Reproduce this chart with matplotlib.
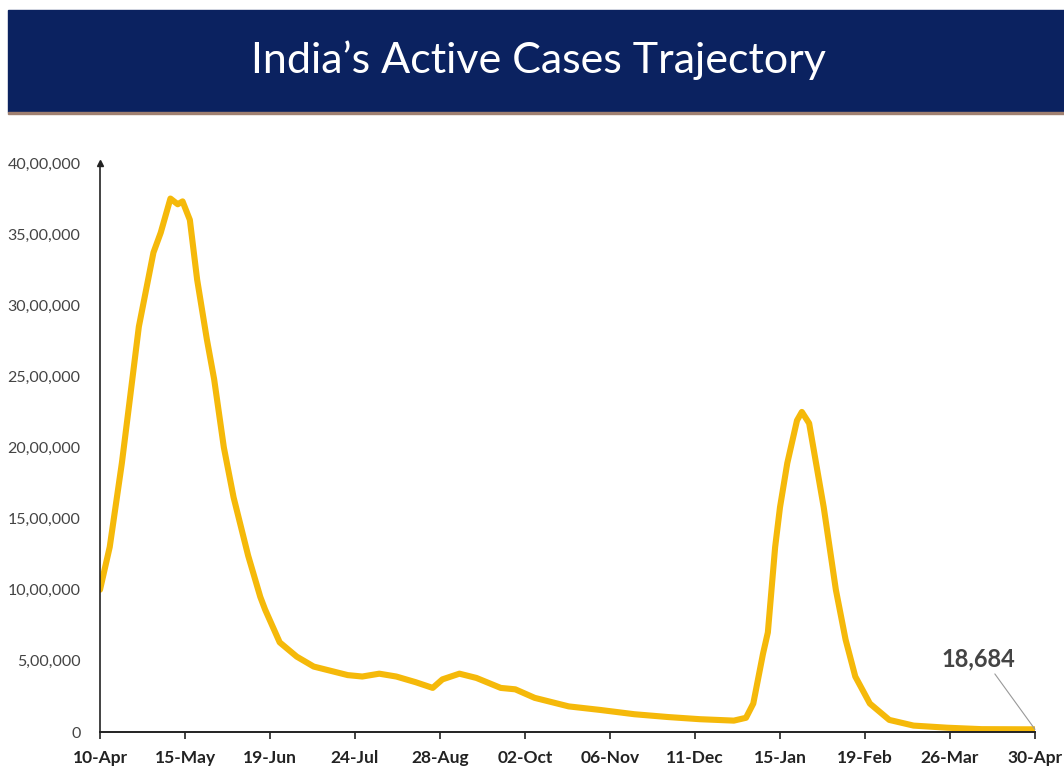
import pandas as pd
import matplotlib
matplotlib.use("Agg")
import matplotlib.pyplot as plt
import matplotlib.dates as mdates
from matplotlib.patches import Rectangle
from matplotlib.ticker import FuncFormatter

# Active cases
dates = [
    "2021-04-10", "2021-04-14", "2021-04-19", "2021-04-22", "2021-04-26",
    "2021-05-02", "2021-05-05", "2021-05-09", "2021-05-12", "2021-05-14",
    "2021-05-17", "2021-05-20", "2021-05-24", "2021-05-27", "2021-05-31",
    "2021-06-04", "2021-06-10", "2021-06-15", "2021-06-17", "2021-06-23",
    "2021-06-30", "2021-07-07", "2021-07-14", "2021-07-21", "2021-07-27",
    "2021-08-03", "2021-08-10", "2021-08-18", "2021-08-25", "2021-08-29",
    "2021-09-05", "2021-09-12", "2021-09-22", "2021-09-28", "2021-10-06",
    "2021-10-20", "2021-11-02", "2021-11-16", "2021-11-30", "2021-12-13",
    "2021-12-27", "2022-01-01", "2022-01-04", "2022-01-08", "2022-01-10",
    "2022-01-13", "2022-01-15", "2022-01-18", "2022-01-22", "2022-01-24",
    "2022-01-27", "2022-02-02", "2022-02-07", "2022-02-11", "2022-02-15",
    "2022-02-21", "2022-03-01", "2022-03-11", "2022-03-25", "2022-04-08",
    "2022-04-30",
]
active = [
    1000000, 1300000, 1890000, 2300000, 2850000,
    3370000, 3510000, 3750000, 3710000, 3730000,
    3600000, 3180000, 2760000, 2480000, 2000000,
    1650000, 1240000, 950000, 860000, 630000,
    530000, 460000, 430000, 400000, 390000,
    410000, 390000, 350000, 310000, 370000,
    410000, 380000, 310000, 300000, 240000,
    180000, 155000, 125000, 105000, 90000,
    80000, 100000, 200000, 550000, 700000,
    1300000, 1580000, 1890000, 2190000, 2250000,
    2170000, 1580000, 1000000, 650000, 390000,
    200000, 85000, 45000, 30000, 20000,
    18684,
]
tick_dates = pd.date_range("2021-04-10", periods=12, freq="35D")
y_ticks = list(range(0, 4000001, 500000))


def indian_format(v, pos=None):
    v = int(round(v))
    if v == 0:
        return "0"
    s = str(v)
    last3, rest = s[-3:], s[:-3]
    parts = []
    while len(rest) > 2:
        parts.insert(0, rest[-2:])
        rest = rest[:-2]
    if rest:
        parts.insert(0, rest)
    return ",".join(parts + [last3])


plt.rcParams['font.family'] = ['Lato', 'DejaVu Sans']

fig = plt.figure(figsize=(10.64, 7.76), dpi=100)

# title banner
fig.patches.append(Rectangle((8 / 1064, 1 - 112 / 776), 1 - 8 / 1064, 102 / 776,
                             transform=fig.transFigure, color="#0b2260", zorder=0))
fig.patches.append(Rectangle((8 / 1064, 1 - 114 / 776), 1 - 8 / 1064, 2 / 776,
                             transform=fig.transFigure, color="#a08070", zorder=0))
fig.text(0.506, 1 - 60 / 776, "India\u2019s Active Cases Trajectory", color="white",
         fontsize=31, ha="center", va="center")

ax = fig.add_axes([100 / 1064, 1 - 732 / 776, 935 / 1064, 569 / 776])
x = pd.to_datetime(dates)
ax.plot(x, active, color="#F5B90A", lw=4.4, solid_capstyle="round", solid_joinstyle="round")

ax.set_xlim(tick_dates[0], tick_dates[-1])
ax.set_ylim(0, 4000000)
ax.set_xticks(tick_dates)
ax.xaxis.set_major_formatter(mdates.DateFormatter("%d-%b"))
ax.set_yticks(y_ticks)
ax.yaxis.set_major_formatter(FuncFormatter(indian_format))

for s in ["top", "right"]:
    ax.spines[s].set_visible(False)
ax.spines["bottom"].set_color("#222222")
ax.spines["bottom"].set_linewidth(1.4)
ax.spines["left"].set_color("#222222")
ax.spines["left"].set_linewidth(1.2)
ax.plot(0, 1.0, "^", transform=ax.transAxes, color="#222222", ms=5, clip_on=False)

ax.tick_params(axis="y", length=0, pad=14, labelsize=11.5, labelcolor="#444444")
ax.tick_params(axis="x", length=5, width=1.2, color="#222222", pad=8,
               labelsize=12.5, labelcolor="#222222")
for lab in ax.get_xticklabels():
    lab.set_fontweight("bold")

ax.annotate(indian_format(active[-1]), xy=(x[-1], active[-1]),
            xytext=(-14, 51), textcoords="offset points", ha="right", va="center",
            fontsize=17, fontweight="bold", color="#444444",
            arrowprops=dict(arrowstyle="-", color="#999999", lw=0.8, shrinkA=1, shrinkB=0,
                            connectionstyle="arc,angleA=0,armA=5,angleB=90,armB=0,rad=0"))

fig.savefig("out.png", dpi=100, facecolor="white")
